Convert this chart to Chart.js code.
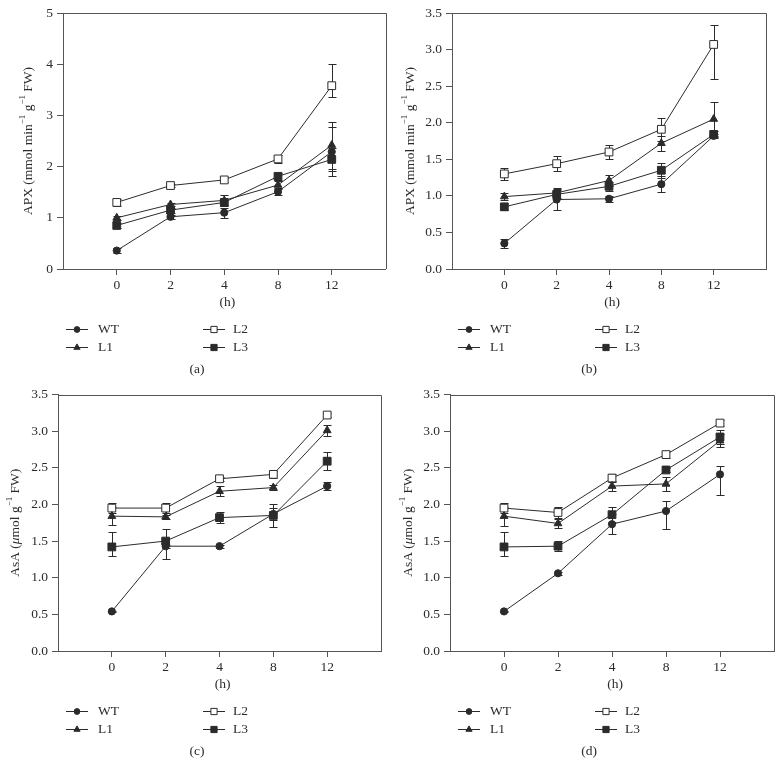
<!DOCTYPE html>
<html>
<head>
<meta charset="utf-8">
<script src="https://cdn.jsdelivr.net/npm/chart.js@4.4.1/dist/chart.umd.min.js"></script>
<style>
  html, body { margin: 0; padding: 0; background: #fff; }
  body { width: 783px; height: 776px; position: relative; overflow: hidden; }
  canvas { position: absolute; }
</style>
</head>
<body>
<canvas id="chartA" width="392" height="388" style="left:0;top:0"></canvas>
<canvas id="chartB" width="391" height="388" style="left:392px;top:0"></canvas>
<canvas id="chartC" width="392" height="388" style="left:0;top:388px"></canvas>
<canvas id="chartD" width="391" height="388" style="left:392px;top:388px"></canvas>
<script>
// sampling times (h) and plant lines
const hours = ['0', '2', '4', '8', '12'];
const lines = ['WT', 'L1', 'L2', 'L3'];

// (a) APX
const apxA_WT = [0.36, 1.02, 1.10, 1.51, 2.29];
const apxA_L1 = [1.00, 1.26, 1.34, 1.64, 2.42];
const apxA_L2 = [1.30, 1.63, 1.74, 2.15, 3.58];
const apxA_L3 = [0.85, 1.15, 1.30, 1.81, 2.14];
const apxA_WTerr = [0.05, 0.04, 0.10, 0.07, 0.48];
const apxA_L1err = [0.04, 0.03, 0.10, 0.08, 0.46];
const apxA_L2err = [0.07, 0.03, 0.05, 0.07, [0.22, 0.43]];
const apxA_L3err = [0.04, 0.05, 0.05, 0.07, 0.22];

// (b) APX
const apxB_WT = [0.35, 0.95, 0.96, 1.16, 1.82];
const apxB_L1 = [0.99, 1.04, 1.21, 1.72, 2.05];
const apxB_L2 = [1.30, 1.44, 1.60, 1.91, 3.07];
const apxB_L3 = [0.85, 1.02, 1.13, 1.35, 1.84];
const apxB_WTerr = [0.06, 0.15, 0.04, 0.11, 0.03];
const apxB_L1err = [0.05, 0.07, 0.08, 0.10, 0.23];
const apxB_L2err = [0.08, 0.10, 0.10, 0.16, [0.47, 0.26]];
const apxB_L3err = [0.05, 0.06, 0.06, 0.10, 0.04];

// (c) AsA
const asaC_WT = [0.54, 1.43, 1.43, 1.87, 2.25];
const asaC_L1 = [1.84, 1.83, 2.18, 2.23, 3.01];
const asaC_L2 = [1.95, 1.95, 2.35, 2.41, 3.22];
const asaC_L3 = [1.42, 1.50, 1.82, 1.85, 2.59];
const asaC_WTerr = [0.01, 0.02, 0.02, 0.08, 0.05];
const asaC_L1err = [0.12, 0.03, 0.07, 0.03, 0.08];
const asaC_L2err = [0.07, 0.07, 0.03, 0.05, 0.03];
const asaC_L3err = [[0.13, 0.20], [0.25, 0.16], 0.08, 0.16, 0.12];

// (d) AsA
const asaD_WT = [0.54, 1.06, 1.73, 1.91, 2.41];
const asaD_L1 = [1.84, 1.74, 2.25, 2.28, 2.87];
const asaD_L2 = [1.95, 1.89, 2.36, 2.68, 3.11];
const asaD_L3 = [1.42, 1.43, 1.86, 2.47, 2.92];
const asaD_WTerr = [0.01, 0.02, 0.14, [0.24, 0.14], [0.28, 0.11]];
const asaD_L1err = [0.13, 0.06, 0.07, 0.10, 0.09];
const asaD_L2err = [0.07, 0.08, 0.06, 0.05, 0.04];
const asaD_L3err = [[0.13, 0.20], 0.07, 0.10, 0.03, 0.10];

const INK = '#2b2b2b';
const AXIS = '#555';
const FONT = '"Liberation Serif", "Times New Roman", serif';

// marker look for each line (WT, L1, L2, L3)
const markers = [
  { pointStyle: 'circle', radius: 3.6, fill: INK },
  { pointStyle: 'triangle', radius: 4.5, fill: INK },
  { pointStyle: 'rect', radius: 5.5, fill: '#fff' },
  { pointStyle: 'rect', radius: 5.5, fill: INK }
];

const apxTitle = [{ t: 'APX (mmol min' }, { t: '\u22121', sup: true }, { t: ' g' }, { t: '\u22121', sup: true }, { t: ' FW)' }];
const asaTitle = [{ t: 'AsA (' }, { t: '\u03bc', it: true }, { t: 'mol g' }, { t: '\u22121', sup: true }, { t: ' FW)' }];

function errPair(e) {
  return Array.isArray(e) ? e : [e, e];
}

// vertical error bars with caps, drawn under the markers
const errorBars = {
  id: 'errorBars',
  beforeDatasetsDraw(chart) {
    const ctx = chart.ctx;
    const y = chart.scales.y;
    ctx.save();
    ctx.strokeStyle = INK;
    ctx.lineWidth = 1;
    chart.data.datasets.forEach((ds, i) => {
      const meta = chart.getDatasetMeta(i);
      meta.data.forEach((pt, j) => {
        const [lo, hi] = errPair(ds.errors[j]);
        const v = ds.data[j].y;
        const yTop = Math.round(y.getPixelForValue(v + hi)) + 0.5;
        const yBot = Math.round(y.getPixelForValue(v - lo)) + 0.5;
        const x = Math.round(pt.x) + 0.5;
        ctx.beginPath();
        ctx.moveTo(x, yTop); ctx.lineTo(x, yBot);
        ctx.moveTo(x - 4, yTop); ctx.lineTo(x + 4, yTop);
        ctx.moveTo(x - 4, yBot); ctx.lineTo(x + 4, yBot);
        ctx.stroke();
      });
    });
    ctx.restore();
  }
};

function drawRich(ctx, segs, cx, cy, rotate) {
  const fontFor = s => (s.it ? 'italic ' : '') + (s.sup ? '9px ' : '13.5px ') + FONT;
  ctx.save();
  ctx.translate(cx, cy);
  if (rotate) ctx.rotate(-Math.PI / 2);
  const widths = segs.map(s => { ctx.font = fontFor(s); return ctx.measureText(s.t).width; });
  let x = -widths.reduce((a, b) => a + b, 0) / 2;
  ctx.textAlign = 'left';
  ctx.textBaseline = 'middle';
  ctx.fillStyle = INK;
  segs.forEach((s, i) => {
    ctx.font = fontFor(s);
    ctx.fillText(s.t, x, s.sup ? -5 : 0);
    x += widths[i];
  });
  ctx.restore();
}

// box frame, axis titles, legend and panel caption
const notes = {
  id: 'notes',
  afterDraw(chart, args, opts) {
    const ctx = chart.ctx;
    const a = chart.chartArea;
    ctx.save();
    ctx.strokeStyle = AXIS;
    ctx.lineWidth = 1;
    ctx.beginPath();
    ctx.moveTo(Math.round(a.left), Math.round(a.top) + 0.5);
    ctx.lineTo(Math.round(a.right) + 0.5, Math.round(a.top) + 0.5);
    ctx.lineTo(Math.round(a.right) + 0.5, Math.round(a.bottom));
    ctx.stroke();

    drawRich(ctx, opts.yTitle, opts.yTitleX, (a.top + a.bottom) / 2, true);

    ctx.fillStyle = INK;
    ctx.font = '13.5px ' + FONT;
    ctx.textAlign = 'center';
    ctx.textBaseline = 'middle';
    ctx.fillText('(h)', (a.left + a.right) / 2 + 3, a.bottom + 33);
    ctx.fillText(opts.caption, 197, a.bottom + 100);

    // legend: two columns, two rows
    const cols = [[66, 98], [203, 233]];
    const rows = [a.bottom + 60, a.bottom + 78];
    lines.forEach((name, i) => {
      const [mx, tx] = cols[Math.floor(i / 2)];
      const y = Math.round(rows[i % 2]) + 0.5;
      ctx.strokeStyle = INK;
      ctx.beginPath();
      ctx.moveTo(mx, y); ctx.lineTo(mx + 22, y);
      ctx.stroke();
      const m = markers[i];
      ctx.fillStyle = m.fill;
      ctx.strokeStyle = INK;
      Chart.helpers.drawPoint(ctx, { pointStyle: m.pointStyle, radius: m.radius * 0.8, rotation: 0, borderWidth: 1 }, mx + 11, y);
      ctx.fillStyle = INK;
      ctx.textAlign = 'left';
      ctx.fillText(name, tx, y);
    });
    ctx.restore();
  }
};

function makeChart(id, series, errors, yMax, yStep, yTitle, caption, box) {
  const canvas = document.getElementById(id);
  const W = canvas.width, H = canvas.height;
  const datasets = series.map((vals, i) => ({
    label: lines[i],
    data: vals.map((v, j) => ({ x: j, y: v })),
    errors: errors[i],
    borderColor: INK,
    borderWidth: 1,
    pointStyle: markers[i].pointStyle,
    pointRadius: markers[i].radius,
    pointBackgroundColor: markers[i].fill,
    pointBorderColor: INK,
    pointBorderWidth: 1,
    tension: 0
  }));
  return new Chart(canvas, {
    type: 'line',
    data: { datasets },
    plugins: [errorBars, notes],
    options: {
      responsive: false,
      animation: false,
      devicePixelRatio: 1,
      layout: { padding: { left: 0, top: box.top, right: W - box.right, bottom: 0 } },
      plugins: {
        legend: { display: false },
        tooltip: { enabled: false },
        notes: { yTitle, yTitleX: box.titleX, caption }
      },
      scales: {
        x: {
          type: 'linear',
          min: -1,
          max: 5,
          afterBuildTicks: s => { s.ticks = hours.map((h, i) => ({ value: i })); },
          afterFit: s => { s.height = H - box.bottom; s.paddingLeft = 0; s.paddingRight = 0; },
          ticks: { callback: v => hours[v], color: INK, font: { family: FONT, size: 13.5 }, padding: 2, maxRotation: 0 },
          grid: { display: true, drawOnChartArea: false, drawTicks: true, tickLength: 6, color: AXIS },
          border: { display: true, color: AXIS }
        },
        y: {
          min: 0,
          max: yMax,
          afterFit: s => { s.width = box.left; s.paddingTop = 0; s.paddingBottom = 0; },
          ticks: {
            stepSize: yStep,
            callback: v => (yStep < 1 ? v.toFixed(1) : String(v)),
            color: INK,
            font: { family: FONT, size: 13.5 },
            padding: 4
          },
          grid: { display: true, drawOnChartArea: false, drawTicks: true, tickLength: 6, color: AXIS },
          border: { display: true, color: AXIS }
        }
      }
    }
  });
}

makeChart('chartA', [apxA_WT, apxA_L1, apxA_L2, apxA_L3], [apxA_WTerr, apxA_L1err, apxA_L2err, apxA_L3err],
  5, 1, apxTitle, '(a)', { left: 63, right: 387, top: 13, bottom: 269, titleX: 28 });
makeChart('chartB', [apxB_WT, apxB_L1, apxB_L2, apxB_L3], [apxB_WTerr, apxB_L1err, apxB_L2err, apxB_L3err],
  3.5, 0.5, apxTitle, '(b)', { left: 60, right: 374, top: 13, bottom: 269, titleX: 18 });
makeChart('chartC', [asaC_WT, asaC_L1, asaC_L2, asaC_L3], [asaC_WTerr, asaC_L1err, asaC_L2err, asaC_L3err],
  3.5, 0.5, asaTitle, '(c)', { left: 58, right: 381, top: 4, bottom: 263, titleX: 15 });
makeChart('chartD', [asaD_WT, asaD_L1, asaD_L2, asaD_L3], [asaD_WTerr, asaD_L1err, asaD_L2err, asaD_L3err],
  3.5, 0.5, asaTitle, '(d)', { left: 58, right: 382, top: 4, bottom: 263, titleX: 16 });
</script>
</body>
</html>
